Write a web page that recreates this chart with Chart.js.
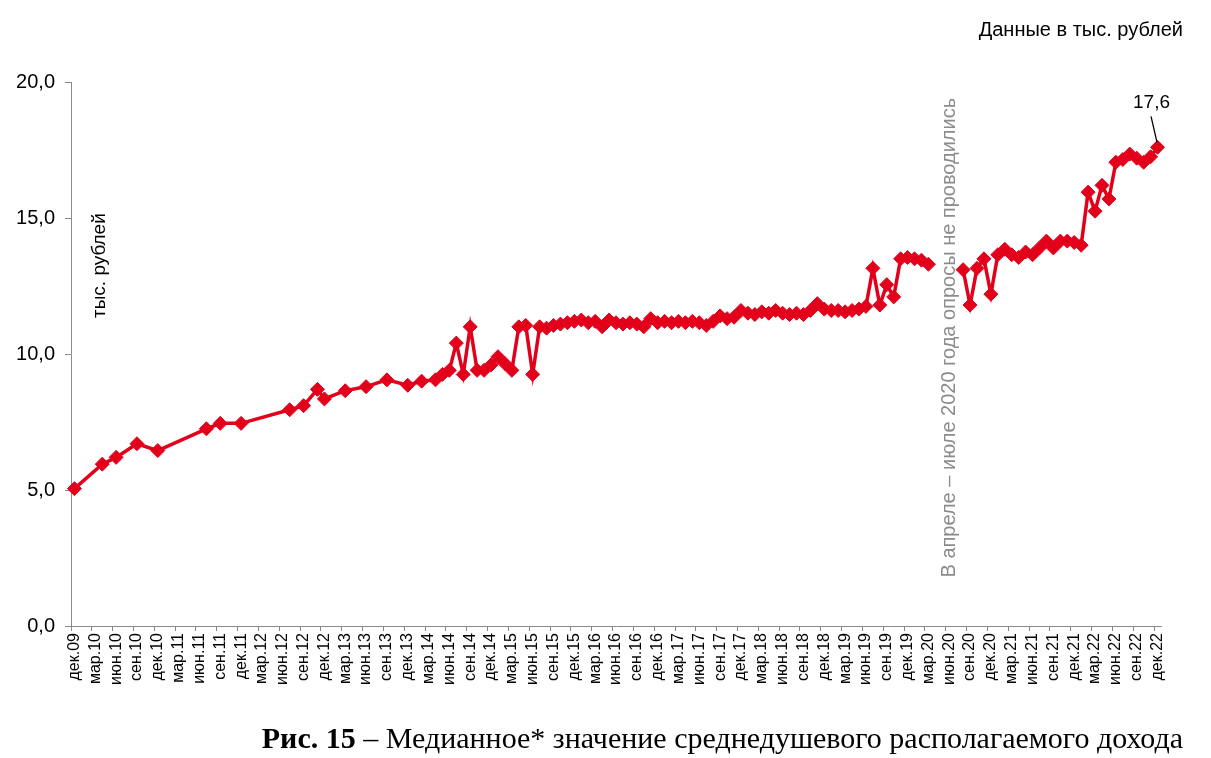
<!DOCTYPE html>
<html>
<head>
<meta charset="utf-8">
<script src="https://cdn.jsdelivr.net/npm/chart.js@4"></script>
<style>
html,body{margin:0;padding:0;background:#fff;width:1211px;height:758px;overflow:hidden;}
#wrap{position:absolute;left:0;top:0;width:1211px;height:758px;}
#note{position:absolute;right:28px;top:19px;font-family:"Liberation Sans",Arial,sans-serif;font-size:20px;line-height:1;color:#000;white-space:nowrap;}
#title{position:absolute;right:28px;top:723px;font-family:"Liberation Serif","Times New Roman",serif;font-size:30px;line-height:1;color:#000;white-space:nowrap;}
</style>
</head>
<body>
<div id="wrap"><canvas id="c" width="1211" height="758"></canvas></div>
<div id="note">Данные в тыс. рублей</div>
<div id="title"><b>Рис. 15</b> – Медианное* значение среднедушевого располагаемого дохода</div>
<script>
// ---- DATA ----
const monthNames = ['янв','фев','мар','апр','май','июн','июл','авг','сен','окт','ноя','дек'];
const yAxisTitle = 'тыс. рублей';
const gapNote = 'В апреле – июле 2020 года опросы не проводились';
const yTicks = [0, 5, 10, 15, 20];

// survey months before the 2020 pause
const months1 = ['дек.09','апр.10','июн.10','сен.10','дек.10','июл.11','сен.11','дек.11',
 'июл.12','сен.12','ноя.12','дек.12','мар.13','июн.13','сен.13','дек.13','фев.14','апр.14','май.14','июн.14',
 'июл.14','авг.14','сен.14','окт.14','ноя.14','дек.14','янв.15','фев.15','мар.15','апр.15','май.15','июн.15',
 'июл.15','авг.15','сен.15','окт.15','ноя.15','дек.15','янв.16','фев.16','мар.16','апр.16','май.16','июн.16',
 'июл.16','авг.16','сен.16','окт.16','ноя.16','дек.16','янв.17','фев.17','мар.17','апр.17','май.17','июн.17',
 'июл.17','авг.17','сен.17','окт.17','ноя.17','дек.17','янв.18','фев.18','мар.18','апр.18','май.18','июн.18',
 'июл.18','авг.18','сен.18','окт.18','ноя.18','дек.18','янв.19','фев.19','мар.19','апр.19','май.19','июн.19',
 'июл.19','авг.19','сен.19','окт.19','ноя.19','дек.19','янв.20','фев.20','мар.20'];
const values1 = [5.05,5.95,6.2,6.7,6.45,7.25,7.45,7.45,
 7.95,8.1,8.7,8.35,8.65,8.8,9.05,8.85,9.0,9.05,9.25,9.4,
 10.4,9.25,11.0,9.4,9.4,9.6,9.9,9.65,9.4,11.0,11.05,9.25,
 11.0,10.95,11.05,11.1,11.15,11.2,11.25,11.15,11.2,11.0,11.25,11.15,
 11.1,11.15,11.1,11.0,11.3,11.15,11.2,11.15,11.2,11.15,11.2,11.15,
 11.05,11.2,11.4,11.3,11.35,11.6,11.5,11.45,11.55,11.5,11.6,11.5,
 11.45,11.5,11.45,11.6,11.85,11.65,11.6,11.6,11.55,11.6,11.65,11.75,
 13.15,11.8,12.55,12.1,13.5,13.55,13.5,13.45,13.3];

// survey months after the 2020 pause
const months2 = ['авг.20','сен.20','окт.20','ноя.20','дек.20','янв.21','фев.21','мар.21','апр.21','май.21','июн.21',
 'июл.21','авг.21','сен.21','окт.21','ноя.21','дек.21','янв.22','фев.22','мар.22','апр.22','май.22','июн.22',
 'июл.22','авг.22','сен.22','окт.22','ноя.22','дек.22'];
const values2 = [13.1,11.8,13.15,13.5,12.2,13.65,13.85,13.65,13.55,13.75,13.65,
 13.9,14.15,13.9,14.15,14.15,14.1,14.0,15.95,15.25,16.2,15.7,17.05,
 17.15,17.35,17.2,17.05,17.25,17.6];

// ---- BUILD ----
const categories = [];
for (let k = 0; k < 157; k++) {
  const m = (11 + k) % 12;
  const yr = 9 + Math.floor((11 + k) / 12);
  categories.push(monthNames[m] + '.' + String(yr).padStart(2, '0'));
}
function fill(months, vals) {
  const arr = categories.map(() => null);
  months.forEach((mm, i) => { arr[categories.indexOf(mm)] = vals[i]; });
  return arr;
}
const data1 = fill(months1, values1);
const data2 = fill(months2, values2);

const RED = '#E2001A';
const fmt = v => Number(v).toFixed(1).replace('.', ',');

const annot = {
  id: 'annot',
  afterDatasetsDraw(chart) {
    const {ctx, chartArea, scales} = chart;
    const xs = scales.x, ys = scales.y;
    ctx.save();
    // y axis title inside plot
    ctx.save();
    ctx.translate(chartArea.left + 29, ys.getPixelForValue(13.25));
    ctx.rotate(-Math.PI / 2);
    ctx.font = '19px "Liberation Sans", Arial, sans-serif';
    ctx.fillStyle = '#000';
    ctx.textAlign = 'center';
    ctx.textBaseline = 'middle';
    ctx.fillText(yAxisTitle, 0, 0);
    ctx.restore();
    // gap note
    ctx.save();
    ctx.translate(xs.getPixelForValue(126), ys.getPixelForValue(10.6));
    ctx.rotate(-Math.PI / 2);
    ctx.font = '20px "Liberation Sans", Arial, sans-serif';
    ctx.fillStyle = '#8c8c8c';
    ctx.textAlign = 'center';
    ctx.textBaseline = 'middle';
    ctx.fillText(gapNote, 0, 0);
    ctx.restore();
    // last value label
    const meta = chart.getDatasetMeta(1);
    const last = meta.data[meta.data.length - 1];
    const lastVal = values2[values2.length - 1];
    ctx.strokeStyle = '#000';
    ctx.lineWidth = 1.3;
    ctx.beginPath();
    ctx.moveTo(last.x - 6.5, last.y - 31);
    ctx.lineTo(last.x - 0.5, last.y - 5);
    ctx.stroke();
    ctx.font = '19px "Liberation Sans", Arial, sans-serif';
    ctx.fillStyle = '#000';
    ctx.textAlign = 'center';
    ctx.textBaseline = 'middle';
    ctx.fillText(fmt(lastVal), last.x - 6, last.y - 45);
    ctx.restore();
  }
};

const dsStyle = {
  borderColor: RED, backgroundColor: RED, borderWidth: 3.5,
  pointStyle: 'rectRot', pointRadius: 7, pointBackgroundColor: RED,
  pointBorderColor: RED, pointBorderWidth: 1, pointHoverRadius: 7,
  tension: 0, spanGaps: true, fill: false
};

new Chart(document.getElementById('c'), {
  type: 'line',
  data: {
    labels: categories,
    datasets: [
      Object.assign({label: 'до 2020', data: data1}, dsStyle),
      Object.assign({label: 'после 2020', data: data2}, dsStyle)
    ]
  },
  options: {
    responsive: false,
    animation: false,
    events: [],
    layout: {padding: {top: 82, right: 50, bottom: 0, left: 0}},
    plugins: {legend: {display: false}, tooltip: {enabled: false}, title: {display: false}},
    scales: {
      x: {
        type: 'category',
        offset: true,
        afterFit: s => { s.height = 132; },
        border: {display: true, color: '#8a8a8a', width: 1},
        grid: {
          display: true, drawOnChartArea: false, drawTicks: true, tickLength: 5, offset: true,
          tickColor: c => (c.index !== undefined && c.index % 3 === 0) ? '#8a8a8a' : 'rgba(0,0,0,0)'
        },
        ticks: {
          autoSkip: false, minRotation: 90, maxRotation: 90, padding: 2,
          color: '#000',
          font: {family: '"Liberation Sans", Arial, sans-serif', size: 16},
          callback: (v, i) => (i % 3 === 0 ? categories[i] : '')
        }
      },
      y: {
        min: 0, max: 20,
        afterFit: s => { s.width = 71; },
        afterBuildTicks: s => { s.ticks = yTicks.map(v => ({value: v})); },
        border: {display: true, color: '#8a8a8a', width: 1},
        grid: {display: true, drawOnChartArea: false, drawTicks: true, tickLength: 6, color: '#8a8a8a'},
        ticks: {
          color: '#000', padding: 10,
          font: {family: '"Liberation Sans", Arial, sans-serif', size: 20},
          callback: v => fmt(v)
        }
      }
    }
  },
  plugins: [annot]
});
</script>
</body>
</html>
